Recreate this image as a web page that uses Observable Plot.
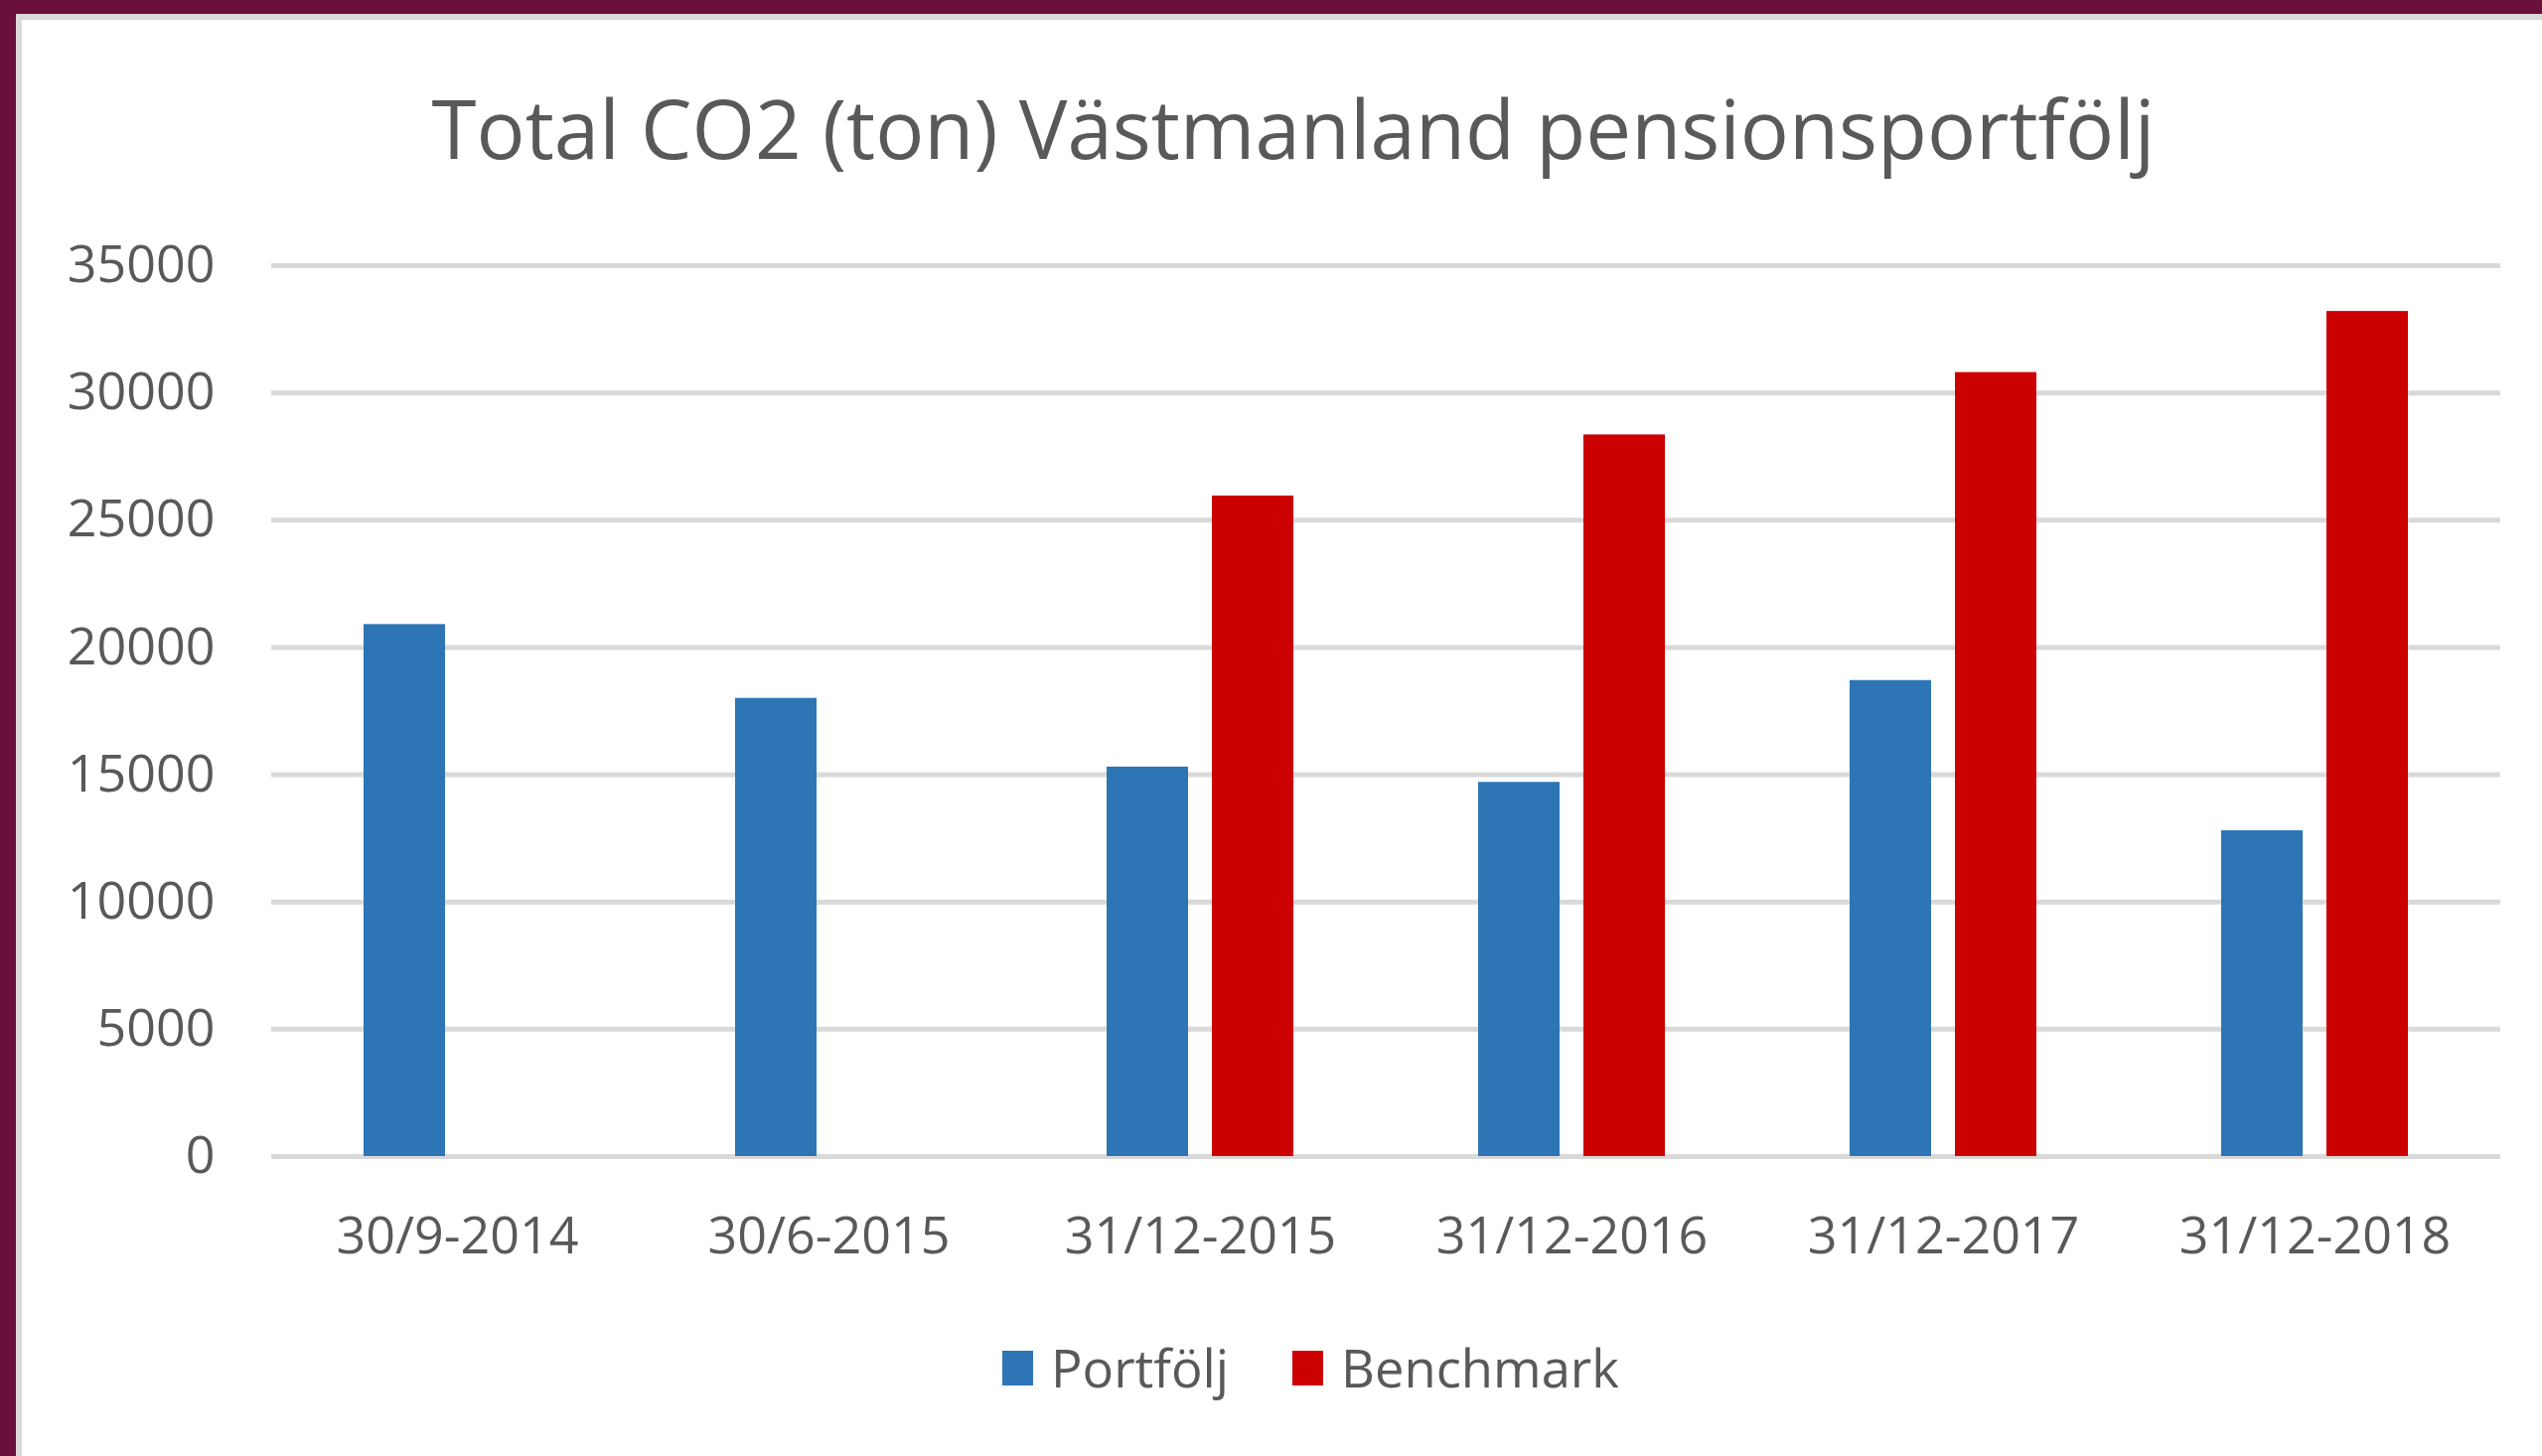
<!DOCTYPE html>
<html>
<head>
<meta charset="utf-8">
<script src="https://cdn.jsdelivr.net/npm/d3@7"></script>
<script src="https://cdn.jsdelivr.net/npm/@observablehq/plot@0.6"></script>
<style>
  html, body { margin: 0; padding: 0; background: #ffffff; }
  #page { position: relative; width: 2559px; height: 1466px; overflow: hidden; background: #ffffff; font-family: "Open Sans", sans-serif; color: #595959; }
  #maroonTop { position: absolute; left: 0; top: 0; width: 2559px; height: 14px; background: #69103b; }
  #maroonLeft { position: absolute; left: 0; top: 0; width: 16px; height: 1466px; background: #69103b; }
  #grayTop { position: absolute; left: 16px; top: 14px; width: 2543px; height: 6px; background: #d9d9d9; }
  #grayLeft { position: absolute; left: 16px; top: 14px; width: 6px; height: 1452px; background: #d9d9d9; }
  #title { position: absolute; left: 1302px; top: 88px; transform: translateX(-50%); font-size: 81.7px; line-height: 1; white-space: nowrap; color: #595959; }
  #chart { position: absolute; left: 22px; top: 20px; }
  #legend { position: absolute; left: 1009px; top: 1351px; display: flex; align-items: center; gap: 64px; font-size: 52.5px; line-height: 1; color: #595959; }
  .item { display: flex; align-items: center; gap: 18px; }
  .sw { width: 31px; height: 35px; }
</style>
</head>
<body>
<div id="page">
  <div id="maroonTop"></div>
  <div id="maroonLeft"></div>
  <div id="grayTop"></div>
  <div id="grayLeft"></div>
  <div id="title">Total CO2 (ton) Västmanland pensionsportfölj</div>
  <div id="chart"></div>
  <div id="legend"></div>
</div>
<script>
const dates = ["30/9-2014", "30/6-2015", "31/12-2015", "31/12-2016", "31/12-2017", "31/12-2018"];
const portfolj = [20900, 18000, 15300, 14700, 18700, 12800];
const benchmark = [null, null, 25950, 28350, 30800, 33200];
const series = ["Portfölj", "Benchmark"];
const colors = ["#2e75b6", "#cc0000"];
const yTicks = [0, 5000, 10000, 15000, 20000, 25000, 30000, 35000];

const data = [];
dates.forEach((d, i) => {
  data.push({date: d, series: series[0], value: portfolj[i]});
  data.push({date: d, series: series[1], value: benchmark[i]});
});
const bars = data.filter(d => d.value != null);

const chart = Plot.plot({
  width: 2537,
  height: 1290,
  marginLeft: 250,
  marginRight: 41,
  marginTop: 247,
  marginBottom: 146,
  style: {fontFamily: "Open Sans, sans-serif", fontSize: "52px", color: "#595959", background: "transparent", overflow: "visible"},
  fx: {domain: dates, padding: 0, label: null},
  x: {domain: series, paddingInner: 0.224, paddingOuter: 0.86, axis: null},
  y: {domain: [0, 35000], label: null},
  color: {domain: series, range: colors},
  marks: [
    Plot.gridY(yTicks, {stroke: "#d9d9d9", strokeOpacity: 1, strokeWidth: 5}),
    Plot.axisY(yTicks, {tickSize: 0, tickPadding: 57, tickFormat: d3.format("d"), fontSize: 52, fill: "#595959", label: null}),
    Plot.axisFx({anchor: "bottom", tickSize: 0, tickPadding: 61, fontSize: 52, fill: "#595959", label: null}),
    Plot.barY(bars, {fx: "date", x: "series", y: "value", fill: "series"})
  ]
});
document.getElementById("chart").appendChild(chart);

const legend = document.getElementById("legend");
series.forEach((s, i) => {
  const item = document.createElement("div");
  item.className = "item";
  const sw = document.createElement("div");
  sw.className = "sw";
  sw.style.background = colors[i];
  const lab = document.createElement("span");
  lab.textContent = s;
  item.appendChild(sw);
  item.appendChild(lab);
  legend.appendChild(item);
});
</script>
</body>
</html>
